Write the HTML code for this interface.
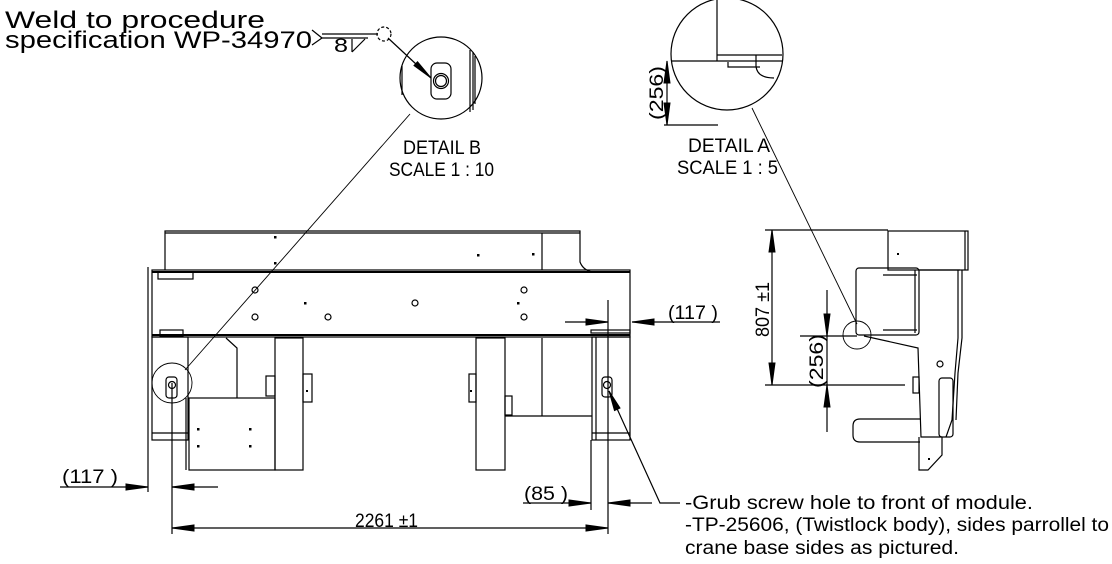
<!DOCTYPE html>
<html><head><meta charset="utf-8"><style>
html,body{margin:0;padding:0;background:#fff;}
svg{display:block;}
text{font-family:"Liberation Sans Narrow","Liberation Sans",sans-serif;fill:#000;}
</style></head><body>
<svg width="1112" height="564" viewBox="0 0 1112 564" xmlns="http://www.w3.org/2000/svg">
<g fill="none" stroke="#000" stroke-width="1.2">
<path d="M312,30 L322,38 L312,45"/>
<line x1="322" y1="34" x2="378" y2="34"/>
<line x1="322" y1="38" x2="368" y2="38"/>
<path d="M352,52 L352,39 M352,52 L365,39"/>
<circle cx="384" cy="34" r="7" stroke-dasharray="3,2"/>
<circle cx="441" cy="78" r="41"/>
<rect x="431" y="63" width="20" height="36" rx="6"/>
<circle cx="441" cy="81" r="7.5"/>
<circle cx="441" cy="81" r="5.5"/>
<line x1="388" y1="38" x2="431" y2="78"/>
<line x1="470" y1="50" x2="470" y2="112"/><line x1="473" y1="52" x2="473" y2="110"/><line x1="475" y1="56" x2="475" y2="104"/>
<line x1="402" y1="66" x2="402" y2="95"/>
<line x1="410" y1="114" x2="185" y2="370" stroke-width="0.9"/>
<circle cx="727" cy="54" r="56"/>
<line x1="717" y1="0" x2="717" y2="61"/>
<line x1="671" y1="61" x2="783" y2="61"/>
<line x1="717" y1="55" x2="782" y2="55"/>
<line x1="756" y1="55" x2="756" y2="66"/>
<path d="M728,62 L728,67 L760,67 M756,66 Q757,78 774,78"/>
<line x1="667" y1="61" x2="667" y2="125"/>
<line x1="664" y1="125" x2="718" y2="125"/>
<line x1="752" y1="108" x2="857" y2="324" stroke-width="0.9"/>
<path d="M165,270 L165,231 L580,231 L580,262 Q583,270 592,272"/>
<line x1="165" y1="233" x2="580" y2="233"/>
<line x1="542" y1="233" x2="542" y2="270"/>
<rect x="152" y="270" width="478" height="67"/>
<line x1="152" y1="272" x2="630" y2="272" stroke-width="2"/>
<line x1="152" y1="335" x2="630" y2="335" stroke-width="2"/>
<line x1="148" y1="267" x2="148" y2="440"/>
<rect x="158" y="272" width="35" height="7"/>
<rect x="160" y="330" width="23" height="6"/>
<rect x="591" y="330" width="39" height="3"/>
<circle cx="255" cy="290" r="3"/><circle cx="255" cy="317" r="3"/><circle cx="328" cy="317" r="3"/>
<circle cx="415" cy="303" r="3"/><circle cx="524" cy="290" r="3"/><circle cx="524" cy="317" r="3"/>
<rect x="152" y="337" width="36" height="103"/>
<line x1="152" y1="433" x2="188" y2="433"/>
<circle cx="172" cy="383" r="20" stroke-width="0.9"/>
<rect x="166" y="377" width="11" height="21" rx="3"/>
<circle cx="172" cy="385" r="3.5"/>
<rect x="189" y="398" width="86" height="72"/>
<rect x="275" y="338" width="28" height="132"/>
<path d="M226,338 L237,348 L237,398"/>
<rect x="266" y="376" width="9" height="20"/>
<rect x="303" y="374" width="9" height="28"/>
<line x1="186" y1="398" x2="186" y2="470"/>
<rect x="476" y="338" width="29" height="132"/>
<rect x="469" y="374" width="7" height="28"/>
<rect x="505" y="396" width="7" height="19"/>
<path d="M505,416 L592,416 M542,338 L542,416"/>
<rect x="592" y="337" width="38" height="103"/>
<line x1="592" y1="433" x2="630" y2="433"/>
<line x1="596" y1="337" x2="596" y2="440"/>
<rect x="602" y="377" width="10" height="20" rx="3"/>
<circle cx="607" cy="385" r="3.5"/>
<line x1="565" y1="322" x2="608" y2="322"/>
<line x1="720" y1="322" x2="632" y2="322"/>
<line x1="608" y1="300" x2="608" y2="534"/>
<line x1="60" y1="487" x2="148" y2="487"/>
<line x1="218" y1="487" x2="172" y2="487"/>
<line x1="148" y1="440" x2="148" y2="492"/>
<line x1="172" y1="383" x2="172" y2="534"/>
<line x1="523" y1="503" x2="591" y2="503"/>
<line x1="652" y1="503" x2="608" y2="503"/>
<line x1="591" y1="440" x2="591" y2="510"/>
<line x1="172" y1="528" x2="608" y2="528"/>
<path d="M680,503 L660,503 L609,391"/>
<line x1="765" y1="230" x2="888" y2="230"/>
<line x1="772" y1="230" x2="772" y2="385"/>
<line x1="765" y1="385" x2="905" y2="385"/>
<line x1="827" y1="290" x2="827" y2="432"/>
<line x1="800" y1="336" x2="857" y2="336"/>
<rect x="888" y="231" width="80" height="39"/>
<line x1="965" y1="231" x2="965" y2="270"/>
<rect x="856" y="268" width="63" height="67" rx="3"/>
<line x1="883" y1="275" x2="917" y2="275"/><line x1="883" y1="330" x2="917" y2="330"/>
<line x1="915" y1="270" x2="915" y2="333"/>
<circle cx="857" cy="335" r="14" stroke-width="0.9"/>
<path d="M864,336 L918,348 L921,437 L942,437"/>
<path d="M958,270 L958,338 L955,373 L952,420 L946,437"/>
<path d="M962,270 L962,338 L958,373 L956,420"/>
<path d="M919,270 L960,270"/>
<rect x="939" y="378" width="14" height="59" rx="3"/>
<path d="M920,419 L860,419 Q853,419 853,426 L853,435 Q853,442 860,442 L920,442"/>
<path d="M919,437 L919,470 L928,470 L942,455 L942,437"/>
<rect x="913" y="377" width="6" height="16"/>
<circle cx="940" cy="364" r="3"/>
</g>
<path fill="#000" stroke="#000" stroke-width="1" d="
M431,78 L417.5,61.8 L414,65.5 Z
M667,61 L664,83 L670,83 Z
M667,125 L664,103 L670,103 Z
M608,322 L586,319 L586,325 Z
M632,322 L654,319 L654,325 Z
M148,487 L126,484 L126,490 Z
M172,487 L194,484 L194,490 Z
M591,503 L569,500 L569,506 Z
M608,503 L630,500 L630,506 Z
M172,528 L194,525 L194,531 Z
M608,528 L586,525 L586,531 Z
M609,391 L620,408 L614.5,410.5 Z
M772,230 L769,252 L775,252 Z
M772,385 L769,363 L775,363 Z
M827,336 L824,314 L830,314 Z
M827,385 L824,407 L830,407 Z"/>
<g fill="#000">
<rect x="274" y="236" width="2.5" height="2.5"/><rect x="274" y="262" width="2.5" height="2.5"/>
<rect x="477" y="254" width="2.5" height="2.5"/><rect x="532" y="253" width="2.5" height="2.5"/>
<rect x="304" y="302" width="2.5" height="2.5"/><rect x="517" y="302" width="2.5" height="2.5"/>
<rect x="197" y="428" width="2.5" height="2.5"/><rect x="249" y="428" width="2.5" height="2.5"/>
<rect x="197" y="445" width="2.5" height="2.5"/><rect x="249" y="445" width="2.5" height="2.5"/>
<rect x="306" y="390" width="2" height="2"/><rect x="470" y="390" width="2" height="2"/>
<rect x="897" y="253" width="2" height="2"/><rect x="928" y="458" width="2" height="2"/>
</g>
<g font-size="24">
<text x="5" y="28" textLength="260" lengthAdjust="spacingAndGlyphs">Weld to procedure</text>
<text x="5" y="48" textLength="307" lengthAdjust="spacingAndGlyphs">specification WP-34970</text>
</g>
<text x="334" y="52" font-size="19" textLength="14" lengthAdjust="spacingAndGlyphs">8</text>
<g font-size="19">
<text x="403" y="154" textLength="78" lengthAdjust="spacingAndGlyphs">DETAIL B</text>
<text x="389" y="176" textLength="105" lengthAdjust="spacingAndGlyphs">SCALE 1 : 10</text>
<text x="688" y="152" textLength="82" lengthAdjust="spacingAndGlyphs">DETAIL A</text>
<text x="677" y="174" textLength="101" lengthAdjust="spacingAndGlyphs">SCALE 1 : 5</text>
<text x="668" y="319" textLength="50" lengthAdjust="spacingAndGlyphs">(117 )</text>
<text x="62" y="483" textLength="56" lengthAdjust="spacingAndGlyphs">(117 )</text>
<text x="524" y="500" textLength="44" lengthAdjust="spacingAndGlyphs">(85 )</text>
<text x="355" y="527" textLength="63" lengthAdjust="spacingAndGlyphs">2261 ±1</text>
<text transform="translate(663,120) rotate(-90)" textLength="54" lengthAdjust="spacingAndGlyphs">(256)</text>
<text transform="translate(769,337) rotate(-90)" textLength="55" lengthAdjust="spacingAndGlyphs">807 ±1</text>
<text transform="translate(823,388) rotate(-90)" textLength="54" lengthAdjust="spacingAndGlyphs">(256)</text>
</g>
<g font-size="19">
<text x="685" y="509" textLength="348" lengthAdjust="spacingAndGlyphs">-Grub screw hole to front of module.</text>
<text x="685" y="531" textLength="424" lengthAdjust="spacingAndGlyphs">-TP-25606, (Twistlock body), sides parrollel to</text>
<text x="685" y="554" textLength="274" lengthAdjust="spacingAndGlyphs">crane base sides as pictured.</text>
</g>
</svg>
</body></html>
